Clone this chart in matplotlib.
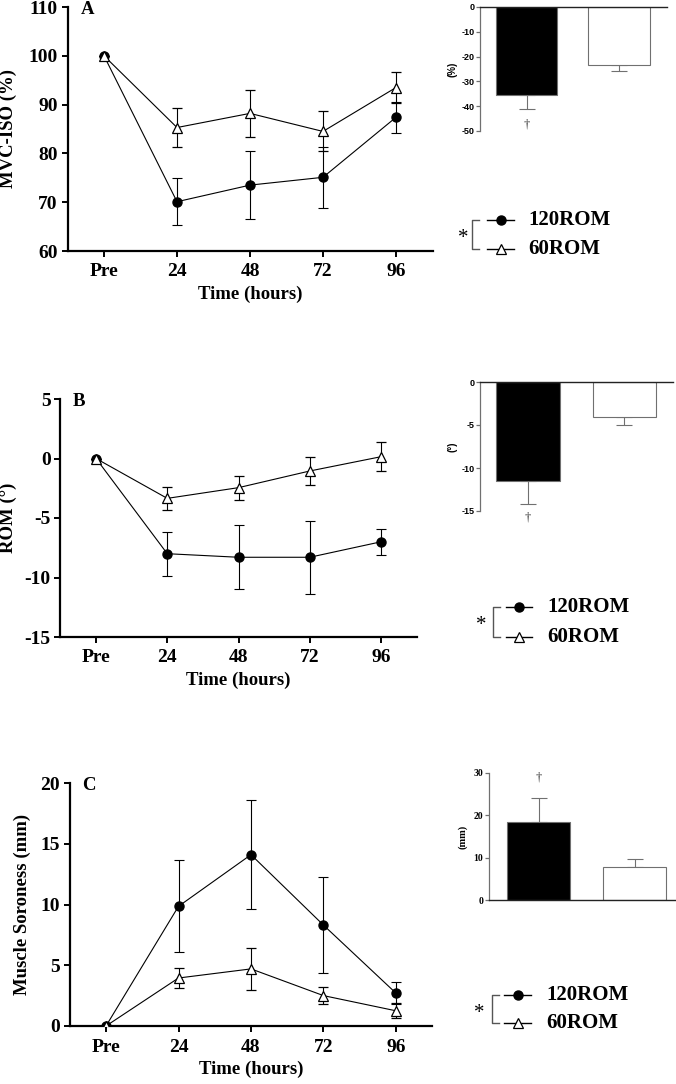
import matplotlib
matplotlib.use("Agg")
import matplotlib.pyplot as plt

plt.rcParams['axes.unicode_minus'] = False

# time points
labels = ['Pre', '24', '48', '72', '96']
groups = ['120ROM', '60ROM']

# panel A - MVC-ISO (%)
mvc_120 = [100, 70.1, 73.5, 75.1, 87.4]
mvc_120_err = [0, 4.8, 7.0, 6.3, 3.2]
mvc_60 = [100, 85.3, 88.2, 84.5, 93.5]
mvc_60_err = [0, 4.0, 4.85, 4.1, 3.2]
mvc_bar = [-35.3, -23.2]
mvc_bar_err = [6.0, 2.5]

# panel B - ROM (deg)
rom_120 = [0, -8.0, -8.3, -8.3, -7.0]
rom_120_err = [0, 1.85, 2.7, 3.05, 1.1]
rom_60 = [0, -3.35, -2.45, -1.05, 0.15]
rom_60_err = [0, 0.95, 1.0, 1.15, 1.2]
rom_bar = [-11.5, -4.1]
rom_bar_err = [2.7, 0.9]

# panel C - muscle soreness (mm)
sor_120 = [0, 9.85, 14.1, 8.3, 2.7]
sor_120_err = [0, 3.8, 4.5, 3.95, 0.9]
sor_60 = [0, 3.95, 4.7, 2.5, 1.25]
sor_60_err = [0, 0.8, 1.75, 0.7, 0.62]
sor_bar = [18.5, 7.8]
sor_bar_err = [5.5, 2.0]

W, H = 676, 1084
fig = plt.figure(figsize=(W / 100, H / 100), dpi=100)
serif = 'Liberation Serif'
sans = 'Liberation Sans'


def px_axes(l, t, r, b):
    return fig.add_axes([l / W, 1 - b / H, (r - l) / W, (b - t) / H])


def main_panel(box, y120, e120, y60, e60, ylim, yticks, ylabel, ylab_x, letter, letter_xy):
    l, t, r, b = box
    ax = px_axes(l, t, r, b)
    x = list(range(len(labels)))
    ax.errorbar(x, y120, yerr=e120, color='black', lw=0.8, capsize=3.8, capthick=0.8,
                marker='o', ms=6.5, mfc='black', mec='black', zorder=3)
    ax.errorbar(x, y60, yerr=e60, color='black', lw=0.8, capsize=3.8, capthick=0.8,
                marker='^', ms=7.5, mfc='white', mec='black', mew=0.9, zorder=4)
    ax.set_xlim(-0.5, 4.5)
    ax.set_ylim(*ylim)
    ax.set_yticks(yticks)
    ax.set_xticks(x)
    ax.set_xticklabels(labels)
    for s in ['top', 'right']:
        ax.spines[s].set_visible(False)
    for s in ['left', 'bottom']:
        ax.spines[s].set_linewidth(1.6)
    ax.tick_params(width=1.4, length=4, pad=3)
    ax.tick_params(axis='x', pad=5)
    for lab in ax.get_xticklabels() + ax.get_yticklabels():
        lab.set_fontfamily(serif)
        lab.set_fontweight('bold')
        lab.set_fontsize(14)
    ax.set_xlabel('Time (hours)', fontfamily=serif, fontweight='bold', fontsize=13.5, labelpad=4)
    ax.set_ylabel(ylabel, fontfamily=serif, fontweight='bold', fontsize=13.5)
    # label x is the right edge of the rotated text
    ax.yaxis.set_label_coords((ylab_x - l) / (r - l), 0.5)
    ax.text((letter_xy[0] - l) / (r - l), 1 - (letter_xy[1] - t) / (b - t), letter,
            transform=ax.transAxes, fontfamily=serif, fontweight='bold', fontsize=13.5,
            ha='center', va='center')
    return ax


def bar_inset(box, vals, errs, xlim, ylim, yticks, ylabel, ylab_x, font, fsize, dagger_y, neg):
    l, t, r, b = box
    ax = px_axes(l, t, r, b)
    gray = '#707070'
    ax.bar([0, 1], vals, width=0.66, color=['black', 'white'], edgecolor=gray, lw=0.8, zorder=2)
    lo = [e if neg else 0 for e in errs]
    hi = [0 if neg else e for e in errs]
    ax.errorbar([0, 1], vals, yerr=[lo, hi], fmt='none', ecolor=gray, elinewidth=0.8,
                capsize=6, capthick=0.8, zorder=1)
    ax.set_xlim(*xlim)
    ax.set_ylim(*ylim)
    ax.set_yticks(yticks)
    ax.set_xticks([])
    ax.spines['right'].set_visible(False)
    if neg:
        ax.spines['bottom'].set_visible(False)
        ax.spines['top'].set_color('#222222')
        ax.spines['top'].set_linewidth(1.0)
    else:
        ax.spines['top'].set_visible(False)
        ax.spines['bottom'].set_color('#222222')
        ax.spines['bottom'].set_linewidth(1.0)
    ax.spines['left'].set_color(gray)
    ax.spines['left'].set_linewidth(0.9)
    ax.tick_params(axis='y', color=gray, width=0.9, length=3, pad=1)
    for lab in ax.get_yticklabels():
        lab.set_fontfamily(font)
        lab.set_fontweight('bold')
        lab.set_fontsize(fsize)
    ax.set_ylabel(ylabel, fontfamily=font, fontweight='bold', fontsize=fsize + 0.5)
    ax.yaxis.set_label_coords((ylab_x - l) / (r - l), 0.5)
    ax.text(0, dagger_y, '\u2020', ha='center', va='center', fontfamily=serif,
            fontsize=9, color='#333333', clip_on=False)
    return ax


main_panel((67.5, 7, 432.5, 251), mvc_120, mvc_120_err, mvc_60, mvc_60_err,
           (60, 110), range(60, 111, 10), 'MVC-ISO (%)', 17, 'A', (88, 10))
main_panel((60.4, 399, 416.6, 637), rom_120, rom_120_err, rom_60, rom_60_err,
           (-15, 5), range(-15, 6, 5), 'ROM (\u00b0)', 17, 'B', (79, 401))
main_panel((69.75, 783, 432.25, 1026), sor_120, sor_120_err, sor_60, sor_60_err,
           (0, 20), range(0, 21, 5), 'Muscle Soroness (mm)', 31, 'C', (89, 785))

bar_inset((480, 7, 667, 131), mvc_bar, mvc_bar_err, (-0.503, 1.519), (-50, 0),
          range(-50, 1, 10), '(%)', 458, sans, 6.5, -47.5, True)
bar_inset((480, 382, 673, 511), rom_bar, rom_bar_err, (-0.497, 1.503), (-15, 0),
          range(-15, 1, 5), '(\u00b0)', 458, sans, 6.5, -15.8, True)
bar_inset((489, 773, 676, 900), sor_bar, sor_bar_err, (-0.516, 1.432), (0, 30),
          range(0, 31, 10), '(mm)', 468, serif, 7, 29, False)

# legends with significance bracket, drawn in pixel space
ov = fig.add_axes([0, 0, 1, 1])
ov.set_xlim(0, W)
ov.set_ylim(H, 0)
ov.axis('off')
legends = [
    # star x, bracket x, line x0, line x1, text x, y top, y bottom
    (463, 472, 487, 514, 528, 220, 249),
    (481, 493, 506, 532, 547, 607, 637),
    (479, 492, 504, 531, 546, 995, 1023),
]
for sx, bx, lx0, lx1, tx, y1, y2 in legends:
    ov.plot([bx + 7, bx, bx, bx + 7], [y1, y1, y2, y2], color='#555555', lw=1.0)
    ov.text(sx, (y1 + y2) / 2 + 4, '*', fontfamily=serif, fontsize=15, ha='center', va='center')
    ov.plot([lx0, lx1], [y1, y1], color='black', lw=1.0)
    ov.plot([(lx0 + lx1) / 2], [y1], marker='o', ms=6.5, color='black')
    ov.plot([lx0, lx1], [y2, y2], color='black', lw=1.0)
    ov.plot([(lx0 + lx1) / 2], [y2], marker='^', ms=7.5, mfc='white', mec='black', mew=0.9)
    ov.text(tx, y1, groups[0], fontfamily=serif, fontweight='bold', fontsize=15, va='center')
    ov.text(tx, y2, groups[1], fontfamily=serif, fontweight='bold', fontsize=15, va='center')

fig.savefig('out.png', dpi=100)
